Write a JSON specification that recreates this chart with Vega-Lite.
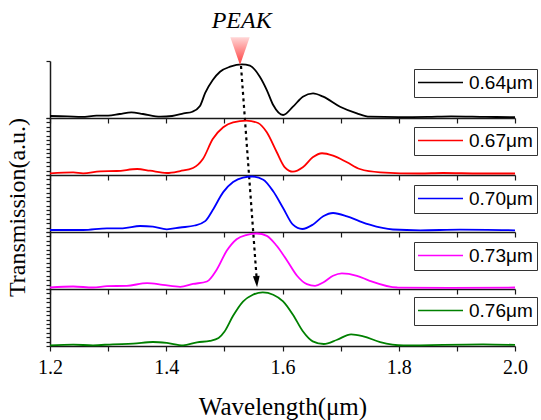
{
  "$schema": "https://vega.github.io/schema/vega-lite/v6.json",
  "background": "white",
  "padding": {"left": 5, "top": 8, "right": 3, "bottom": 3},
  "bounds": "flush",
  "spacing": 0,
  "datasets": {
    "d064": [
      {"wl": 1.2, "t": 0.035, "s": "0.64μm"}, {"wl": 1.23, "t": 0.03, "s": "0.64μm"}, {"wl": 1.255, "t": 0.02, "s": "0.64μm"},
      {"wl": 1.28, "t": 0.04, "s": "0.64μm"}, {"wl": 1.3, "t": 0.04, "s": "0.64μm"}, {"wl": 1.32, "t": 0.07, "s": "0.64μm"},
      {"wl": 1.34, "t": 0.1, "s": "0.64μm"}, {"wl": 1.36, "t": 0.07, "s": "0.64μm"}, {"wl": 1.39, "t": 0.023, "s": "0.64μm"},
      {"wl": 1.41, "t": 0.035, "s": "0.64μm"}, {"wl": 1.43, "t": 0.08, "s": "0.64μm"}, {"wl": 1.445, "t": 0.11, "s": "0.64μm"},
      {"wl": 1.458, "t": 0.21, "s": "0.64μm"}, {"wl": 1.467, "t": 0.439, "s": "0.64μm"}, {"wl": 1.48, "t": 0.667, "s": "0.64μm"},
      {"wl": 1.4925, "t": 0.812, "s": "0.64μm"}, {"wl": 1.51, "t": 0.9, "s": "0.64μm"}, {"wl": 1.53, "t": 0.942, "s": "0.64μm"},
      {"wl": 1.544, "t": 0.918, "s": "0.64μm"}, {"wl": 1.561, "t": 0.725, "s": "0.64μm"}, {"wl": 1.573, "t": 0.491, "s": "0.64μm"},
      {"wl": 1.584, "t": 0.228, "s": "0.64μm"}, {"wl": 1.601, "t": 0.053, "s": "0.64μm"}, {"wl": 1.618, "t": 0.198, "s": "0.64μm"},
      {"wl": 1.635, "t": 0.374, "s": "0.64μm"}, {"wl": 1.6525, "t": 0.433, "s": "0.64μm"}, {"wl": 1.67, "t": 0.374, "s": "0.64μm"},
      {"wl": 1.699, "t": 0.198, "s": "0.64μm"}, {"wl": 1.728, "t": 0.082, "s": "0.64μm"}, {"wl": 1.75, "t": 0.023, "s": "0.64μm"},
      {"wl": 1.8, "t": 0.015, "s": "0.64μm"}, {"wl": 1.85, "t": 0.02, "s": "0.64μm"}, {"wl": 1.89, "t": 0.03, "s": "0.64μm"},
      {"wl": 1.95, "t": 0.02, "s": "0.64μm"}, {"wl": 2.0, "t": 0.015, "s": "0.64μm"}
    ],
    "d067": [
      {"wl": 1.2, "t": 0.03, "s": "0.67μm"}, {"wl": 1.24, "t": 0.047, "s": "0.67μm"}, {"wl": 1.257, "t": 0.03, "s": "0.67μm"},
      {"wl": 1.286, "t": 0.065, "s": "0.67μm"}, {"wl": 1.315, "t": 0.07, "s": "0.67μm"}, {"wl": 1.35, "t": 0.105, "s": "0.67μm"},
      {"wl": 1.372, "t": 0.075, "s": "0.67μm"}, {"wl": 1.401, "t": 0.035, "s": "0.67μm"}, {"wl": 1.424, "t": 0.07, "s": "0.67μm"},
      {"wl": 1.446, "t": 0.123, "s": "0.67μm"}, {"wl": 1.463, "t": 0.28, "s": "0.67μm"}, {"wl": 1.48, "t": 0.63, "s": "0.67μm"},
      {"wl": 1.498, "t": 0.837, "s": "0.67μm"}, {"wl": 1.515, "t": 0.925, "s": "0.67μm"}, {"wl": 1.538, "t": 0.953, "s": "0.67μm"},
      {"wl": 1.558, "t": 0.912, "s": "0.67μm"}, {"wl": 1.573, "t": 0.749, "s": "0.67μm"}, {"wl": 1.59, "t": 0.404, "s": "0.67μm"},
      {"wl": 1.604, "t": 0.135, "s": "0.67μm"}, {"wl": 1.618, "t": 0.058, "s": "0.67μm"}, {"wl": 1.635, "t": 0.135, "s": "0.67μm"},
      {"wl": 1.652, "t": 0.31, "s": "0.67μm"}, {"wl": 1.668, "t": 0.382, "s": "0.67μm"}, {"wl": 1.687, "t": 0.339, "s": "0.67μm"},
      {"wl": 1.711, "t": 0.223, "s": "0.67μm"}, {"wl": 1.733, "t": 0.105, "s": "0.67μm"}, {"wl": 1.768, "t": 0.047, "s": "0.67μm"},
      {"wl": 1.837, "t": 0.026, "s": "0.67μm"}, {"wl": 1.876, "t": 0.035, "s": "0.67μm"}, {"wl": 1.94, "t": 0.026, "s": "0.67μm"},
      {"wl": 2.0, "t": 0.026, "s": "0.67μm"}
    ],
    "d070": [
      {"wl": 1.2, "t": 0.035, "s": "0.70μm"}, {"wl": 1.257, "t": 0.035, "s": "0.70μm"}, {"wl": 1.298, "t": 0.065, "s": "0.70μm"},
      {"wl": 1.325, "t": 0.065, "s": "0.70μm"}, {"wl": 1.355, "t": 0.105, "s": "0.70μm"}, {"wl": 1.377, "t": 0.093, "s": "0.70μm"},
      {"wl": 1.401, "t": 0.047, "s": "0.70μm"}, {"wl": 1.424, "t": 0.079, "s": "0.70μm"}, {"wl": 1.449, "t": 0.114, "s": "0.70μm"},
      {"wl": 1.467, "t": 0.19, "s": "0.70μm"}, {"wl": 1.48, "t": 0.386, "s": "0.70μm"}, {"wl": 1.498, "t": 0.7, "s": "0.70μm"},
      {"wl": 1.515, "t": 0.877, "s": "0.70μm"}, {"wl": 1.532, "t": 0.956, "s": "0.70μm"}, {"wl": 1.548, "t": 0.974, "s": "0.70μm"},
      {"wl": 1.567, "t": 0.918, "s": "0.70μm"}, {"wl": 1.584, "t": 0.714, "s": "0.70μm"}, {"wl": 1.601, "t": 0.421, "s": "0.70μm"},
      {"wl": 1.618, "t": 0.128, "s": "0.70μm"}, {"wl": 1.634, "t": 0.053, "s": "0.70μm"}, {"wl": 1.652, "t": 0.128, "s": "0.70μm"},
      {"wl": 1.67, "t": 0.275, "s": "0.70μm"}, {"wl": 1.687, "t": 0.333, "s": "0.70μm"}, {"wl": 1.711, "t": 0.275, "s": "0.70μm"},
      {"wl": 1.733, "t": 0.188, "s": "0.70μm"}, {"wl": 1.75, "t": 0.128, "s": "0.70μm"}, {"wl": 1.79, "t": 0.044, "s": "0.70μm"},
      {"wl": 1.837, "t": 0.03, "s": "0.70μm"}, {"wl": 1.905, "t": 0.04, "s": "0.70μm"}, {"wl": 2.0, "t": 0.03, "s": "0.70μm"}
    ],
    "d073": [
      {"wl": 1.2, "t": 0.026, "s": "0.73μm"}, {"wl": 1.24, "t": 0.044, "s": "0.73μm"}, {"wl": 1.274, "t": 0.026, "s": "0.73μm"},
      {"wl": 1.298, "t": 0.049, "s": "0.73μm"}, {"wl": 1.332, "t": 0.056, "s": "0.73μm"}, {"wl": 1.367, "t": 0.102, "s": "0.73μm"},
      {"wl": 1.394, "t": 0.074, "s": "0.73μm"}, {"wl": 1.424, "t": 0.039, "s": "0.73μm"}, {"wl": 1.446, "t": 0.088, "s": "0.73μm"},
      {"wl": 1.47, "t": 0.132, "s": "0.73μm"}, {"wl": 1.487, "t": 0.342, "s": "0.73μm"}, {"wl": 1.504, "t": 0.67, "s": "0.73μm"},
      {"wl": 1.521, "t": 0.874, "s": "0.73μm"}, {"wl": 1.539, "t": 0.951, "s": "0.73μm"}, {"wl": 1.556, "t": 0.974, "s": "0.73μm"},
      {"wl": 1.573, "t": 0.933, "s": "0.73μm"}, {"wl": 1.59, "t": 0.758, "s": "0.73μm"}, {"wl": 1.608, "t": 0.495, "s": "0.73μm"},
      {"wl": 1.625, "t": 0.232, "s": "0.73μm"}, {"wl": 1.642, "t": 0.084, "s": "0.73μm"}, {"wl": 1.656, "t": 0.056, "s": "0.73μm"},
      {"wl": 1.67, "t": 0.114, "s": "0.73μm"}, {"wl": 1.687, "t": 0.232, "s": "0.73μm"}, {"wl": 1.702, "t": 0.275, "s": "0.73μm"},
      {"wl": 1.728, "t": 0.232, "s": "0.73μm"}, {"wl": 1.75, "t": 0.144, "s": "0.73μm"}, {"wl": 1.797, "t": 0.026, "s": "0.73μm"},
      {"wl": 1.888, "t": 0.021, "s": "0.73μm"}, {"wl": 2.0, "t": 0.026, "s": "0.73μm"}
    ],
    "d076": [
      {"wl": 1.2, "t": 0.012, "s": "0.76μm"}, {"wl": 1.24, "t": 0.023, "s": "0.76μm"}, {"wl": 1.274, "t": 0.012, "s": "0.76μm"},
      {"wl": 1.308, "t": 0.03, "s": "0.76μm"}, {"wl": 1.343, "t": 0.04, "s": "0.76μm"}, {"wl": 1.377, "t": 0.07, "s": "0.76μm"},
      {"wl": 1.401, "t": 0.053, "s": "0.76μm"}, {"wl": 1.429, "t": 0.012, "s": "0.76μm"}, {"wl": 1.453, "t": 0.065, "s": "0.76μm"},
      {"wl": 1.475, "t": 0.09, "s": "0.76μm"}, {"wl": 1.49, "t": 0.14, "s": "0.76μm"}, {"wl": 1.5, "t": 0.25, "s": "0.76μm"},
      {"wl": 1.515, "t": 0.53, "s": "0.76μm"}, {"wl": 1.532, "t": 0.78, "s": "0.76μm"}, {"wl": 1.549, "t": 0.9, "s": "0.76μm"},
      {"wl": 1.566, "t": 0.942, "s": "0.76μm"}, {"wl": 1.584, "t": 0.9, "s": "0.76μm"}, {"wl": 1.601, "t": 0.784, "s": "0.76μm"},
      {"wl": 1.618, "t": 0.549, "s": "0.76μm"}, {"wl": 1.635, "t": 0.258, "s": "0.76μm"}, {"wl": 1.652, "t": 0.082, "s": "0.76μm"},
      {"wl": 1.671, "t": 0.035, "s": "0.76μm"}, {"wl": 1.694, "t": 0.11, "s": "0.76μm"}, {"wl": 1.718, "t": 0.205, "s": "0.76μm"},
      {"wl": 1.739, "t": 0.17, "s": "0.76μm"}, {"wl": 1.768, "t": 0.07, "s": "0.76μm"}, {"wl": 1.808, "t": 0.012, "s": "0.76μm"},
      {"wl": 1.945, "t": 0.03, "s": "0.76μm"}, {"wl": 2.0, "t": 0.018, "s": "0.76μm"}
    ],
    "arrow": [{"wl": 1.5286, "t": 0.912, "wl2": 1.5553, "t2": -2.789}],
    "head": [{"wl": 1.5556, "t": -2.872}],
    "tri": [{"wl": 1.5269, "t": 1.173}],
    "peaktext": [{"wl": 1.5298, "t": 1.584, "label": "PEAK"}]
  },
  "vconcat": [
    {
      "width": 465, "height": 57,
      "layer": [
        {
          "data": {"name": "d064"},
          "mark": {"type": "line", "interpolate": "monotone", "strokeWidth": 1.8},
          "encoding": {
            "x": {"field": "wl", "type": "quantitative", "scale": {"domain": [1.2, 2.0], "nice": false},
                  "axis": {"values": [1.2, 1.3, 1.4, 1.5, 1.6, 1.7, 1.8, 1.9, 2.0], "labels": false, "title": null, "tickSize": 5}},
            "y": {"field": "t", "type": "quantitative", "scale": {"domain": [0, 1], "nice": false, "zero": false},
                  "axis": {"values": [0, 0.0769, 0.1538, 0.2308, 0.3077, 0.3846, 0.4615, 0.5385, 0.6154, 0.6923, 0.7692, 0.8462, 0.9231, 1], "labels": false, "title": null, "tickSize": 4}},
            "color": {"field": "s", "type": "nominal", "scale": {"domain": ["0.64μm"], "range": ["#000000"]},
                      "legend": {"orient": "none", "legendX": 364, "legendY": 8, "title": null}}
          }
        },
        {
          "data": {"name": "arrow"},
          "mark": {"type": "rule", "color": "black", "strokeWidth": 2.2, "strokeDash": [3, 3.5]},
          "encoding": {
            "x": {"field": "wl", "type": "quantitative"},
            "y": {"field": "t", "type": "quantitative"},
            "x2": {"field": "wl2"},
            "y2": {"field": "t2"}
          }
        },
        {
          "data": {"name": "head"},
          "mark": {"type": "point", "shape": "M-0.6,-1L0.6,-1L0,1Z", "size": 128, "filled": true, "color": "black", "opacity": 1, "angle": -4},
          "encoding": {
            "x": {"field": "wl", "type": "quantitative"},
            "y": {"field": "t", "type": "quantitative"}
          }
        },
        {
          "data": {"name": "tri"},
          "mark": {"type": "point", "shape": "M-0.7,-1L0.7,-1L0,1Z", "size": 767, "filled": true, "opacity": 1, "strokeWidth": 0,
                   "fill": {"gradient": "linear", "x1": 0, "y1": 0, "x2": 0, "y2": 1,
                            "stops": [{"offset": 0, "color": "#ffd6d6"}, {"offset": 1, "color": "#ff3a3a"}]}},
          "encoding": {
            "x": {"field": "wl", "type": "quantitative"},
            "y": {"field": "t", "type": "quantitative"}
          }
        },
        {
          "data": {"name": "peaktext"},
          "mark": {"type": "text", "font": "Liberation Serif", "fontStyle": "italic", "fontSize": 24, "align": "center", "baseline": "alphabetic", "color": "black"},
          "encoding": {
            "x": {"field": "wl", "type": "quantitative"},
            "y": {"field": "t", "type": "quantitative"},
            "text": {"field": "label"}
          }
        }
      ]
    },
    {
      "width": 465, "height": 57,
      "data": {"name": "d067"},
      "mark": {"type": "line", "interpolate": "monotone", "strokeWidth": 1.8},
      "encoding": {
        "x": {"field": "wl", "type": "quantitative", "scale": {"domain": [1.2, 2.0], "nice": false},
              "axis": {"values": [1.2, 1.3, 1.4, 1.5, 1.6, 1.7, 1.8, 1.9, 2.0], "labels": false, "title": null, "tickSize": 5}},
        "y": {"field": "t", "type": "quantitative", "scale": {"domain": [0, 1], "nice": false, "zero": false},
              "axis": {"values": [0, 0.0769, 0.1538, 0.2308, 0.3077, 0.3846, 0.4615, 0.5385, 0.6154, 0.6923, 0.7692, 0.8462, 0.9231, 1], "labels": false, "title": null, "tickSize": 4}},
        "color": {"field": "s", "type": "nominal", "scale": {"domain": ["0.67μm"], "range": ["#ff0000"]},
                  "legend": {"orient": "none", "legendX": 364, "legendY": 9, "title": null}}
      }
    },
    {
      "width": 465, "height": 57,
      "data": {"name": "d070"},
      "mark": {"type": "line", "interpolate": "monotone", "strokeWidth": 1.8},
      "encoding": {
        "x": {"field": "wl", "type": "quantitative", "scale": {"domain": [1.2, 2.0], "nice": false},
              "axis": {"values": [1.2, 1.3, 1.4, 1.5, 1.6, 1.7, 1.8, 1.9, 2.0], "labels": false, "title": null, "tickSize": 5}},
        "y": {"field": "t", "type": "quantitative", "scale": {"domain": [0, 1], "nice": false, "zero": false},
              "axis": {"values": [0, 0.0769, 0.1538, 0.2308, 0.3077, 0.3846, 0.4615, 0.5385, 0.6154, 0.6923, 0.7692, 0.8462, 0.9231, 1], "labels": false, "title": "Transmission(a.u.)", "tickSize": 4, "titleFontSize": 24, "titlePadding": 16, "titleY": 32}},
        "color": {"field": "s", "type": "nominal", "scale": {"domain": ["0.70μm"], "range": ["#0000ff"]},
                  "legend": {"orient": "none", "legendX": 364, "legendY": 10, "title": null}}
      }
    },
    {
      "width": 465, "height": 57,
      "data": {"name": "d073"},
      "mark": {"type": "line", "interpolate": "monotone", "strokeWidth": 1.8},
      "encoding": {
        "x": {"field": "wl", "type": "quantitative", "scale": {"domain": [1.2, 2.0], "nice": false},
              "axis": {"values": [1.2, 1.3, 1.4, 1.5, 1.6, 1.7, 1.8, 1.9, 2.0], "labels": false, "title": null, "tickSize": 5}},
        "y": {"field": "t", "type": "quantitative", "scale": {"domain": [0, 1], "nice": false, "zero": false},
              "axis": {"values": [0, 0.0769, 0.1538, 0.2308, 0.3077, 0.3846, 0.4615, 0.5385, 0.6154, 0.6923, 0.7692, 0.8462, 0.9231, 1], "labels": false, "title": null, "tickSize": 4}},
        "color": {"field": "s", "type": "nominal", "scale": {"domain": ["0.73μm"], "range": ["#ff00ff"]},
                  "legend": {"orient": "none", "legendX": 364, "legendY": 10, "title": null}}
      }
    },
    {
      "width": 465, "height": 57,
      "data": {"name": "d076"},
      "mark": {"type": "line", "interpolate": "monotone", "strokeWidth": 1.8},
      "encoding": {
        "x": {"field": "wl", "type": "quantitative", "scale": {"domain": [1.2, 2.0], "nice": false},
              "axis": {"values": [1.2, 1.3, 1.4, 1.5, 1.6, 1.7, 1.8, 1.9, 2.0], "title": "Wavelength(μm)", "tickSize": 5,
                       "labelExpr": "round(datum.value * 10) % 2 == 0 ? format(datum.value, '.1f') : ''",
                       "labelFlush": false, "labelOverlap": false, "labelPadding": 6, "titleFontSize": 25, "titlePadding": 17}},
        "y": {"field": "t", "type": "quantitative", "scale": {"domain": [0, 1], "nice": false, "zero": false},
              "axis": {"values": [0, 0.0769, 0.1538, 0.2308, 0.3077, 0.3846, 0.4615, 0.5385, 0.6154, 0.6923, 0.7692, 0.8462, 0.9231, 1], "labels": false, "title": null, "tickSize": 4}},
        "color": {"field": "s", "type": "nominal", "scale": {"domain": ["0.76μm"], "range": ["#008000"]},
                  "legend": {"orient": "none", "legendX": 364, "legendY": 8, "title": null}}
      }
    }
  ],
  "resolve": {
    "scale": {"x": "independent", "y": "independent", "color": "independent"},
    "axis": {"x": "independent", "y": "independent"},
    "legend": {"color": "independent"}
  },
  "config": {
    "view": {"stroke": null},
    "font": "Liberation Serif",
    "axis": {
      "grid": false, "domainColor": "#1a1a1a", "domainWidth": 1.5, "tickColor": "#1a1a1a", "tickWidth": 1.2,
      "labelFont": "Liberation Serif", "labelFontSize": 20, "labelColor": "black",
      "titleFont": "Liberation Serif", "titleFontWeight": "normal", "titleColor": "black"
    },
    "legend": {
      "strokeColor": "#333333", "fillColor": "white", "padding": 4,
      "labelFont": "Liberation Sans", "labelFontSize": 19, "labelColor": "black",
      "symbolType": "M-4.5,0H4.5", "symbolSize": 100, "symbolStrokeWidth": 1.6,
      "symbolOffset": 13, "labelOffset": 19
    }
  }
}
